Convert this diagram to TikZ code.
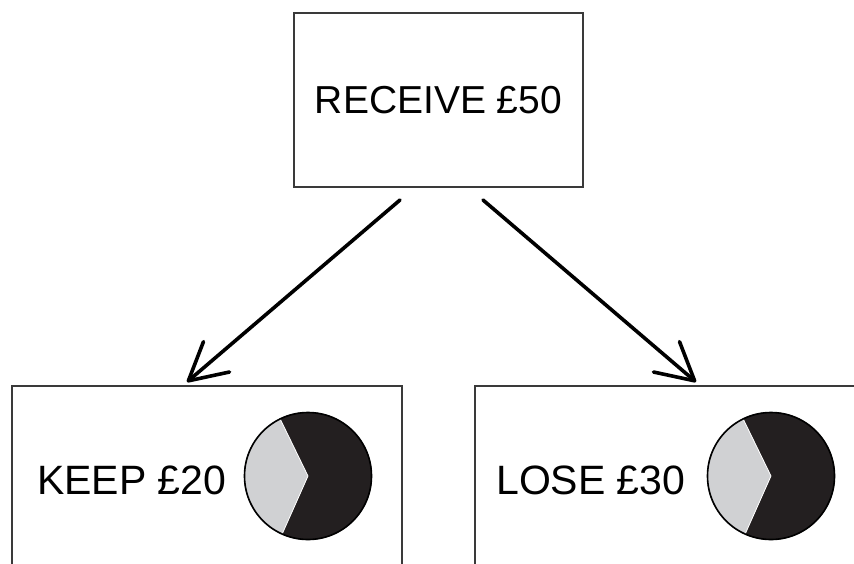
\documentclass[tikz,border=0pt]{standalone}
\usepackage{fontspec}
\setmainfont{Liberation Sans}
\usetikzlibrary{arrows.meta}
\definecolor{boxline}{HTML}{3A3A3A}
\definecolor{piedark}{HTML}{231F20}
\definecolor{pielight}{HTML}{D0D1D3}
\tikzset{
  box/.style={draw=boxline, line width=2pt, rectangle, inner sep=0pt},
  arr/.style={draw=black, line width=3.6pt, line cap=round,
    -{Straight Barb[length=37pt,width=40pt,line width=3.6pt,round]}},
  lbl/.style={inner sep=0pt, anchor=base west, font=\fontsize{41pt}{41pt}\selectfont},
  pie/.style={circle, minimum size=128pt, inner sep=0pt, fill=piedark},
}
\begin{document}
\begin{tikzpicture}[x=1pt,y=-1pt]
\useasboundingbox (0,0) rectangle (854,563);
\clip (0,0) rectangle (854,563);
% boxes
\node[box, minimum width=289pt, minimum height=174pt] (top) at (438.5,100) {};
\node[inner sep=0pt, font=\fontsize{39pt}{39pt}\selectfont] (toptxt) at (top.center) {RECEIVE £50};
\node[box, minimum width=390pt, minimum height=260pt] (left) at (207,516) {};
\node[box, minimum width=430pt, minimum height=260pt] (right) at (690,516) {};
% labels
\node[lbl] (keep) at (37,494) {KEEP £20};
\node[lbl] (lose) at (496,494) {LOSE £30};
% pies
\node[pie] (pie1) at (308,476) {};
\fill[pielight] (pie1.center) -- +(114:64) arc[start angle=114, end angle=244, radius=64] -- cycle;
\draw[white, line width=0.8pt] (pie1.center) ++(114:64) -- (pie1.center) -- +(244:64);
\draw[black, line width=1.6pt] (pie1.center) circle[radius=63.5];
\node[pie] (pie2) at (771,476) {};
\fill[pielight] (pie2.center) -- +(114:64) arc[start angle=114, end angle=244, radius=64] -- cycle;
\draw[white, line width=0.8pt] (pie2.center) ++(114:64) -- (pie2.center) -- +(244:64);
\draw[black, line width=1.6pt] (pie2.center) circle[radius=63.5];
% arrows
\draw[arr] ([xshift=107pt,yshift=-12pt]top.south west) -- ([xshift=176pt,yshift=3pt]left.north west);
\draw[arr] ([xshift=190pt,yshift=-12pt]top.south west) -- ([xshift=222pt,yshift=3pt]right.north west);
\end{tikzpicture}
\end{document}
